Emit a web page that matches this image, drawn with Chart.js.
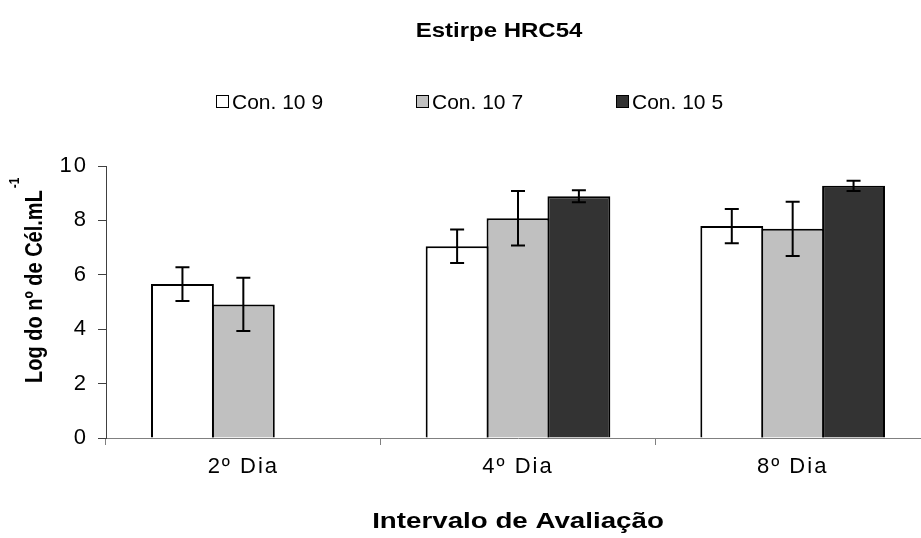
<!DOCTYPE html>
<html>
<head>
<meta charset="utf-8">
<script src="https://cdn.jsdelivr.net/npm/chart.js@4.4.1/dist/chart.umd.min.js"></script>
<style>
  html, body { margin: 0; padding: 0; background: #fff; overflow: hidden; width: 921px; height: 538px; }
  #wrap { position: absolute; left: 0; top: 0; width: 940px; height: 538px; }
</style>
</head>
<body>
<div id="wrap"><canvas id="c" width="940" height="538"></canvas></div>
<script>
// ---- data ----
const chartTitle = 'Estirpe HRC54';
const xAxisTitle = 'Intervalo de Avaliação';
const yAxisTitle = 'Log do nº de Cél.mL';
const yAxisTitleSup = '-1';
const categories = ['2º Dia', '4º Dia', '8º Dia'];
const seriesNames = ['Con. 10 9', 'Con. 10 7', 'Con. 10 5'];
const con109 = [5.66, 7.05, 7.79];
const con107 = [4.91, 8.08, 7.69];
const con105 = [null, 8.89, 9.27];
const con109Err = [0.62, 0.62, 0.63];
const con107Err = [0.98, 1.00, 1.00];
const con105Err = [null, 0.22, 0.19];
const yTicks = [0, 2, 4, 6, 8, 10];

// ---- styling ----
const FONT = "'Liberation Sans', Arial, sans-serif";
const seriesColors = ['#FFFFFF', '#C0C0C0', '#333333'];

function stretchedText(ctx, text, x, y, sx, align) {
  ctx.save();
  ctx.translate(x, y);
  ctx.scale(sx, 1);
  ctx.textAlign = align;
  ctx.textBaseline = 'alphabetic';
  ctx.fillText(text, 0, 0);
  ctx.restore();
}

// slightly spaced tick text
const tickSpacing = {
  id: 'tickSpacing',
  beforeDraw(chart) { chart.ctx.letterSpacing = '2px'; },
  afterDraw(chart) { chart.ctx.letterSpacing = '0px'; }
};

// vertical error bars with caps
const errorBars = {
  id: 'errorBars',
  afterDatasetsDraw(chart) {
    const ctx = chart.ctx;
    const yScale = chart.scales.y;
    chart.data.datasets.forEach((ds, di) => {
      const meta = chart.getDatasetMeta(di);
      meta.data.forEach((bar, i) => {
        const v = ds.data[i], e = ds.errors[i];
        if (v == null || e == null) return;
        const x = bar.x;
        const yTop = yScale.getPixelForValue(v + e);
        const yBot = yScale.getPixelForValue(v - e);
        ctx.save();
        ctx.strokeStyle = '#000';
        ctx.lineWidth = 2;
        ctx.beginPath();
        ctx.moveTo(x, yTop); ctx.lineTo(x, yBot);
        ctx.moveTo(x - 7, yTop); ctx.lineTo(x + 7, yTop);
        ctx.moveTo(x - 7, yBot); ctx.lineTo(x + 7, yBot);
        ctx.stroke();
        ctx.restore();
      });
    });
  }
};

// title, legend and axis titles
const decorations = {
  id: 'decorations',
  afterDraw(chart) {
    const ctx = chart.ctx;
    const area = chart.chartArea;
    ctx.save();
    ctx.letterSpacing = '0px';
    ctx.fillStyle = '#000';

    // chart title
    ctx.font = 'bold 20px ' + FONT;
    stretchedText(ctx, chartTitle, 499, 37, 1.2, 'center');

    // legend
    ctx.font = '21px ' + FONT;
    chart.data.datasets.forEach((ds, i) => {
      const bx = 216 + i * 200;
      ctx.fillStyle = ds.backgroundColor;
      ctx.fillRect(bx, 95, 12, 12);
      ctx.strokeStyle = '#000';
      ctx.lineWidth = 1;
      ctx.strokeRect(bx + 0.5, 95.5, 12, 12);
      ctx.fillStyle = '#000';
      stretchedText(ctx, ds.label, bx + 16, 109, 1.0, 'left');
    });

    // x axis title
    ctx.font = 'bold 22px ' + FONT;
    stretchedText(ctx, xAxisTitle, (area.left + area.right) / 2, 528, 1.26, 'center');

    // y axis title (rotated, with superscript)
    ctx.save();
    ctx.translate(42, 383);
    ctx.scale(1.2, 1);
    ctx.rotate(-Math.PI / 2);
    ctx.font = 'bold 20px ' + FONT;
    ctx.textAlign = 'left';
    ctx.textBaseline = 'alphabetic';
    ctx.fillText(yAxisTitle, 0, 0);
    const w = ctx.measureText(yAxisTitle).width;
    ctx.font = 'bold 12px ' + FONT;
    ctx.fillText(yAxisTitleSup, w + 2, -19);
    ctx.restore();

    ctx.restore();
  }
};

const datasets = [
  { label: seriesNames[0], data: con109, errors: con109Err, backgroundColor: seriesColors[0] },
  { label: seriesNames[1], data: con107, errors: con107Err, backgroundColor: seriesColors[1] },
  { label: seriesNames[2], data: con105, errors: con105Err, backgroundColor: seriesColors[2] }
].map(d => Object.assign(d, { borderColor: '#000', borderWidth: 2 }));

new Chart(document.getElementById('c'), {
  type: 'bar',
  data: { labels: categories, datasets },
  options: {
    responsive: false,
    animation: false,
    devicePixelRatio: 1,
    layout: { padding: { top: 166, left: 0, right: 10, bottom: 0 } },
    plugins: {
      legend: { display: false },
      title: { display: false },
      tooltip: { enabled: false }
    },
    datasets: { bar: { barPercentage: 1.033, categoryPercentage: 0.665 } },
    scales: {
      x: {
        grid: { offset: true, drawOnChartArea: false, tickLength: 7, color: '#808080' },
        border: { color: '#808080' },
        ticks: { font: { family: FONT, size: 22 }, color: '#000', padding: 9, maxRotation: 0 },
        afterFit(s) { s.height = 100; }
      },
      y: {
        min: 0,
        max: 10,
        afterBuildTicks(s) { s.ticks = yTicks.map(v => ({ value: v })); },
        grid: { drawOnChartArea: false, tickLength: 8, color: '#404040' },
        border: { color: '#404040' },
        ticks: { font: { family: FONT, size: 22 }, color: '#000', padding: 10 },
        afterFit(s) { s.width = 106; }
      }
    }
  },
  plugins: [tickSpacing, errorBars, decorations]
});
</script>
</body>
</html>
